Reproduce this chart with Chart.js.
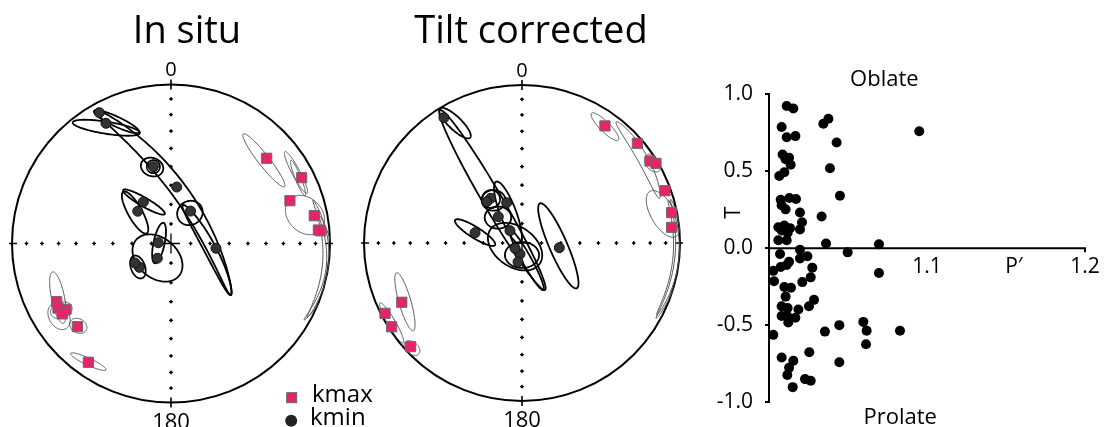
<!DOCTYPE html>
<html><head><meta charset="utf-8">
<script src="https://cdn.jsdelivr.net/npm/chart.js@4.4.1/dist/chart.umd.min.js"></script>
<style>
html,body{margin:0;padding:0;background:#fff;}
#wrap{position:relative;width:1104px;height:427px;overflow:hidden;background:#fff;}
canvas{position:absolute;top:0;}
</style></head><body>
<div id="wrap">
<canvas id="s1" width="400" height="427" style="left:0px"></canvas>
<canvas id="s2" width="345" height="427" style="left:345px"></canvas>
<canvas id="tp" width="414" height="427" style="left:690px"></canvas>
</div>
<script>
// ---------- Stereonet 1: In situ (x = east, y = north, unit circle) ----------
const s1KmaxX = [0.602, 0.822, 0.748, 0.901, 0.927, 0.941, -0.719, -0.660, -0.711, -0.684, -0.589, -0.520];
const s1KmaxY = [0.536, 0.414, 0.269, 0.175, 0.085, 0.080, -0.366, -0.414, -0.406, -0.443, -0.523, -0.747];
const s1KminX = [-0.451, -0.409, -0.111, 0.036, 0.123, -0.174, -0.209, -0.080, -0.086, 0.283, -0.199, -0.226];
const s1KminY = [0.823, 0.756, 0.483, 0.355, 0.204, 0.261, 0.203, 0.005, -0.093, -0.030, -0.150, -0.123];
// confidence ellipses: [centreX, centreY, semiMajor, semiMinor, angleDeg, bend]
const s1KminEllipses = [
  [-0.407, 0.728, 0.214, 0.038, -9, 0],
  [-0.342, 0.766, 0.157, 0.031, -25, 0],
  [-0.050, 0.258, 0.721, 0.050, -53.7, 0.126],
  [0.226, -0.041, 0.321, 0.038, -62, 0.02],
  [-0.119, 0.481, 0.072, 0.057, -20, 0],
  [-0.111, 0.483, 0.041, 0.041, 0, 0],
  [0.119, 0.192, 0.082, 0.075, 30, 0],
  [-0.170, 0.261, 0.151, 0.028, -30, 0],
  [-0.226, 0.195, 0.150, 0.044, -60.6, 0],
  [-0.075, 0.003, 0.130, 0.035, 78, 0],
  [-0.085, -0.091, 0.176, 0.126, -40, 0],
  [-0.208, -0.148, 0.075, 0.044, -70, 0]
];
const s1KmaxEllipses = [
  [0.584, 0.523, 0.210, 0.035, -52, 0],
  [0.786, 0.447, 0.148, 0.025, -62, 0],
  [0.799, 0.412, 0.120, 0.018, -68, 0],
  [0.843, 0.179, 0.138, 0.107, -45, 0],
  [0.874, -0.097, 0.371, 0.019, 87.1, -0.10],
  [0.884, -0.151, 0.333, 0.019, 81.9, -0.11],
  [-0.711, -0.340, 0.165, 0.041, 101.6, 0],
  [-0.704, -0.459, 0.088, 0.063, -60, 0],
  [-0.690, -0.420, 0.070, 0.050, 20, 0],
  [-0.583, -0.518, 0.057, 0.044, -30, 0],
  [-0.520, -0.743, 0.123, 0.022, -25, 0]
];

// ---------- Stereonet 2: Tilt corrected ----------
const s2KmaxX = [0.525, 0.730, 0.810, 0.848, 0.905, 0.947, 0.947, -0.761, -0.867, -0.825, -0.705];
const s2KmaxY = [0.741, 0.631, 0.519, 0.504, 0.331, 0.192, 0.099, -0.375, -0.445, -0.530, -0.656];
const s2KminX = [-0.494, -0.198, -0.223, -0.097, -0.150, -0.076, -0.297, -0.013, -0.044, 0.236, -0.025];
const s2KminY = [0.793, 0.283, 0.261, 0.255, 0.166, 0.078, 0.065, -0.070, -0.034, -0.030, -0.120];
const s2KminEllipses = [
  [-0.424, 0.759, 0.133, 0.041, -44, 0],
  [-0.187, 0.272, 0.659, 0.060, -59.7, 0],
  [-0.196, 0.278, 0.057, 0.057, 0, 0],
  [-0.180, 0.270, 0.075, 0.065, 0, 0],
  [-0.089, 0.193, 0.209, 0.051, -69.3, 0],
  [-0.152, 0.161, 0.084, 0.070, 0, 0],
  [-0.297, 0.066, 0.149, 0.035, -32, 0],
  [-0.044, -0.023, 0.190, 0.127, -35, 0],
  [0.000, -0.076, 0.108, 0.082, 0, 0],
  [0.230, -0.018, 0.293, 0.057, -66.6, 0],
  [0.030, -0.108, 0.217, 0.030, -61, 0]
];
const s2KmaxEllipses = [
  [0.525, 0.736, 0.120, 0.032, -45, 0],
  [0.734, 0.525, 0.278, 0.032, -60.5, 0.03],
  [0.829, 0.506, 0.063, 0.044, -50, 0],
  [0.892, 0.184, 0.165, 0.076, -60, 0],
  [0.889, -0.092, 0.366, 0.019, 84.2, -0.085],
  [0.895, -0.100, 0.380, 0.019, 83, -0.09],
  [-0.741, -0.372, 0.191, 0.038, 106, 0],
  [-0.696, -0.665, 0.057, 0.038, -40, 0],
  [-0.825, -0.506, 0.146, 0.025, -59.8, 0]
];

// grid dots along the N-S / E-W diameters (angle from centre, degrees)
const gridAngles = [10, 20, 30, 40, 50, 60, 70, 80];

// ---------- T vs P' ----------
const pValues = [1.0112,1.0154,1.0080,1.0112,1.0167,1.0344,1.0376,1.0428,1.0951,1.0086,1.0105,1.0127,1.0137,1.0065,1.0097,1.0386,1.0449,1.0074,1.0129,1.0171,1.0080,1.0105,1.0196,1.0333,1.0209,1.0196,1.0059,1.0097,1.0133,1.0080,1.0118,1.0059,1.0112,1.0361,1.0696,
1.0070,1.0196,1.0196,1.0243,1.0498,1.0696,1.0027,1.0032,1.0074,1.0112,1.0127,1.0274,1.0264,1.0211,1.0097,1.0139,1.0105,1.0285,1.0253,1.0186,1.0080,1.0118,1.0080,1.0116,1.0122,1.0167,1.0027,1.0354,1.0445,1.0597,1.0618,1.0614,1.0829,1.0255,1.0445,1.0080,1.0154,1.0127,1.0116,1.0228,1.0264,1.0150];
const tValues = [0.922,0.906,0.786,0.719,0.727,0.807,0.839,0.686,0.759,0.608,0.577,0.587,0.541,0.468,0.493,0.518,0.340,0.314,0.325,0.319,0.279,0.252,0.231,0.205,0.168,0.122,0.136,0.147,0.130,0.115,0.101,0.052,0.052,0.031,0.025,
-0.038,-0.010,-0.067,-0.052,-0.027,-0.161,-0.147,-0.214,-0.122,-0.109,-0.088,-0.126,-0.189,-0.220,-0.252,-0.256,-0.314,-0.335,-0.377,-0.398,-0.377,-0.388,-0.440,-0.440,-0.482,-0.451,-0.562,-0.541,-0.499,-0.478,-0.535,-0.623,-0.535,-0.675,-0.740,-0.709,-0.730,-0.776,-0.822,-0.849,-0.860,-0.901];
const xTickValues = [1.1, 1.2];
const xTickLabels = ['1.1', '1.2'];
const yTickLabels = ['-1.0', '-0.5', '0.0', '0.5', '1.0'];

const PINK = '#e8226b';
const FONT = '"Open Sans", "Noto Sans", sans-serif';

function zip(xs, ys) { return xs.map((v, i) => ({x: v, y: ys[i]})); }

function drawEllipse(ctx, xs, ys, e) {
  const [cx, cy, a, b, angDeg, bend] = e;
  const th = angDeg * Math.PI / 180, dx = Math.cos(th), dy = Math.sin(th), nx = -dy, ny = dx;
  ctx.beginPath();
  const N = 120;
  for (let i = 0; i <= N; i++) {
    const t = i / N * 2 * Math.PI;
    const u = a * Math.cos(t);
    const v = b * Math.sin(t) + (bend || 0) * (1 - (u / a) * (u / a));
    const X = cx + u * dx + v * nx, Y = cy + u * dy + v * ny;
    const px = xs.getPixelForValue(X), py = ys.getPixelForValue(Y);
    if (i === 0) ctx.moveTo(px, py); else ctx.lineTo(px, py);
  }
  ctx.closePath();
  ctx.stroke();
}

function makeStereoPlugin(cfg) {
  return {
    id: 'stereo_' + cfg.id,
    beforeDatasetsDraw(chart) {
      const {ctx, scales: {x, y}} = chart;
      const cx = x.getPixelForValue(0), cy = y.getPixelForValue(0);
      const r = x.getPixelForValue(1) - cx;
      ctx.save();
      // primitive circle
      ctx.strokeStyle = '#000'; ctx.lineWidth = 2;
      ctx.beginPath(); ctx.arc(cx, cy, r, 0, 2 * Math.PI); ctx.stroke();
      // cardinal ticks
      ctx.lineWidth = 1.6;
      ctx.beginPath();
      ctx.moveTo(cx, cy - r - 5); ctx.lineTo(cx, cy - r + 5);
      ctx.moveTo(cx, cy + r - 5); ctx.lineTo(cx, cy + r + 5);
      ctx.moveTo(cx - r - 3, cy); ctx.lineTo(cx - r + 5, cy);
      ctx.moveTo(cx + r - 5, cy); ctx.lineTo(cx + r + 3, cy);
      ctx.stroke();
      // centre cross
      ctx.lineWidth = 1.3;
      ctx.beginPath();
      ctx.moveTo(cx - 9, cy); ctx.lineTo(cx + 9, cy);
      ctx.moveTo(cx, cy - 10); ctx.lineTo(cx, cy + 10);
      ctx.stroke();
      // grid dots
      ctx.fillStyle = '#000'; ctx.lineWidth = 1.2;
      gridAngles.forEach(ang => {
        const rr = Math.SQRT2 * Math.sin(ang / 2 * Math.PI / 180);
        [[rr, 0], [-rr, 0], [0, rr], [0, -rr]].forEach(([X, Y]) => {
          const px = x.getPixelForValue(X), py = y.getPixelForValue(Y);
          ctx.beginPath(); ctx.arc(px, py, 1.3, 0, 2 * Math.PI); ctx.fill();
          ctx.beginPath(); ctx.moveTo(px - 1.9, py); ctx.lineTo(px + 1.9, py);
          ctx.moveTo(px, py - 1.9); ctx.lineTo(px, py + 1.9); ctx.stroke();
        });
      });
      // ellipses clipped to the net
      ctx.save();
      ctx.beginPath(); ctx.arc(cx, cy, r + 0.5, 0, 2 * Math.PI); ctx.clip();
      ctx.lineJoin = 'round';
      ctx.strokeStyle = '#555'; ctx.lineWidth = 1;
      cfg.kmaxEll.forEach(e => drawEllipse(ctx, x, y, e));
      ctx.strokeStyle = '#000'; ctx.lineWidth = 1.8;
      cfg.kminEll.forEach(e => drawEllipse(ctx, x, y, e));
      ctx.restore();
      // labels
      ctx.fillStyle = '#000';
      ctx.textAlign = 'center'; ctx.textBaseline = 'middle';
      ctx.font = '20px ' + FONT;
      ctx.fillText('0', cx, cy - r - 14);
      ctx.font = '22px ' + FONT;
      ctx.fillText('180', cx, cy + r + 20);
      ctx.textBaseline = 'alphabetic';
      ctx.font = '38px ' + FONT;
      ctx.fillText(cfg.title, cfg.titleX, 43);
      if (cfg.legend) {
        ctx.font = '24px ' + FONT; ctx.textAlign = 'left';
        ctx.fillStyle = PINK; ctx.strokeStyle = '#666'; ctx.lineWidth = 1;
        ctx.fillRect(286.7, 392.7, 10, 10); ctx.strokeRect(286.7, 392.7, 10, 10);
        ctx.fillStyle = '#222';
        ctx.beginPath(); ctx.arc(291.2, 420.8, 6, 0, 2 * Math.PI); ctx.fill();
        ctx.fillStyle = '#000';
        ctx.fillText('kmax', 312, 402);
        ctx.fillText('kmin', 310, 425);
      }
      ctx.restore();
    }
  };
}

function stereoChart(canvasId, cfg) {
  const cv = document.getElementById(canvasId);
  const W = cv.width, H = cv.height;
  new Chart(cv, {
    type: 'scatter',
    data: {
      datasets: [
        {label: 'kmax', data: zip(cfg.kmaxX, cfg.kmaxY), pointStyle: 'rect', pointRadius: 7.2,
         backgroundColor: PINK, borderColor: '#6a6a6a', borderWidth: 1, clip: false},
        {label: 'kmin', data: zip(cfg.kminX, cfg.kminY), pointStyle: 'circle', pointRadius: 5,
         backgroundColor: '#333', borderColor: '#111', borderWidth: 1, clip: false}
      ]
    },
    options: {
      responsive: false, animation: false, devicePixelRatio: 1, events: [],
      layout: {padding: 0, autoPadding: false},
      scales: {
        x: {type: 'linear', display: false, min: -cfg.cx / cfg.R, max: (W - cfg.cx) / cfg.R},
        y: {type: 'linear', display: false, min: -(H - cfg.cy) / cfg.R, max: cfg.cy / cfg.R}
      },
      plugins: {legend: {display: false}, tooltip: {enabled: false}}
    },
    plugins: [makeStereoPlugin(cfg)]
  });
}

stereoChart('s1', {id: 1, cx: 171, cy: 243.5, R: 159, title: 'In situ', titleX: 187, legend: true,
  kmaxX: s1KmaxX, kmaxY: s1KmaxY, kminX: s1KminX, kminY: s1KminY,
  kmaxEll: s1KmaxEllipses, kminEll: s1KminEllipses});
stereoChart('s2', {id: 2, cx: 177, cy: 243, R: 158, title: 'Tilt corrected', titleX: 186, legend: false,
  kmaxX: s2KmaxX, kmaxY: s2KmaxY, kminX: s2KminX, kminY: s2KminY,
  kmaxEll: s2KmaxEllipses, kminEll: s2KminEllipses});

// ---------- T - P' plot ----------
const tpDecor = {
  id: 'tpDecor',
  beforeDatasetsDraw(chart) {
    const {ctx, scales: {x, y}} = chart;
    const y0 = y.getPixelForValue(0);
    ctx.save();
    ctx.strokeStyle = '#000'; ctx.lineWidth = 2;
    ctx.beginPath();
    ctx.moveTo(x.getPixelForValue(1.0), y0); ctx.lineTo(x.getPixelForValue(1.2), y0);
    ctx.moveTo(x.getPixelForValue(1.2), y0 - 1); ctx.lineTo(x.getPixelForValue(1.2), y0 + 4);
    ctx.stroke();
    ctx.fillStyle = '#000';
    ctx.font = '21px ' + FONT; ctx.textAlign = 'center'; ctx.textBaseline = 'middle';
    xTickValues.forEach((v, i) => ctx.fillText(xTickLabels[i], x.getPixelForValue(v), y0 + 19));
    ctx.fillText('P\u2032', x.getPixelForValue(1.155), y0 + 19);
    ctx.font = '22px ' + FONT;
    ctx.textBaseline = 'alphabetic';
    ctx.fillText('Oblate', x.getPixelForValue(1.073), 86);
    ctx.fillText('Prolate', x.getPixelForValue(1.083), 424);
    ctx.save();
    ctx.translate(43.5, y.getPixelForValue(0.23));
    ctx.rotate(-Math.PI / 2);
    ctx.textBaseline = 'middle';
    ctx.fillText('T', 0, 0);
    ctx.restore();
    ctx.restore();
  }
};

new Chart(document.getElementById('tp'), {
  type: 'scatter',
  data: {datasets: [{label: 'samples', data: zip(pValues, tValues), pointRadius: 5,
    backgroundColor: '#000', borderWidth: 0, clip: false}]},
  options: {
    responsive: false, animation: false, devicePixelRatio: 1, events: [],
    layout: {padding: {left: 0, right: 19, top: 94, bottom: 15}, autoPadding: false},
    scales: {
      x: {type: 'linear', display: false, min: 1.0, max: 1.2},
      y: {type: 'linear', position: 'left', min: -1, max: 1,
        afterFit(scale) { scale.width = 79; },
        border: {display: true, color: '#000', width: 2},
        grid: {display: true, drawOnChartArea: false, drawTicks: true, tickLength: 4, color: '#000', lineWidth: 2},
        ticks: {stepSize: 0.5, padding: 12, color: '#000', font: {family: FONT, size: 21},
          callback: (v) => yTickLabels[Math.round((v + 1) * 2)]}
      }
    },
    plugins: {legend: {display: false}, tooltip: {enabled: false}}
  },
  plugins: [tpDecor]
});
</script>
</body></html>
